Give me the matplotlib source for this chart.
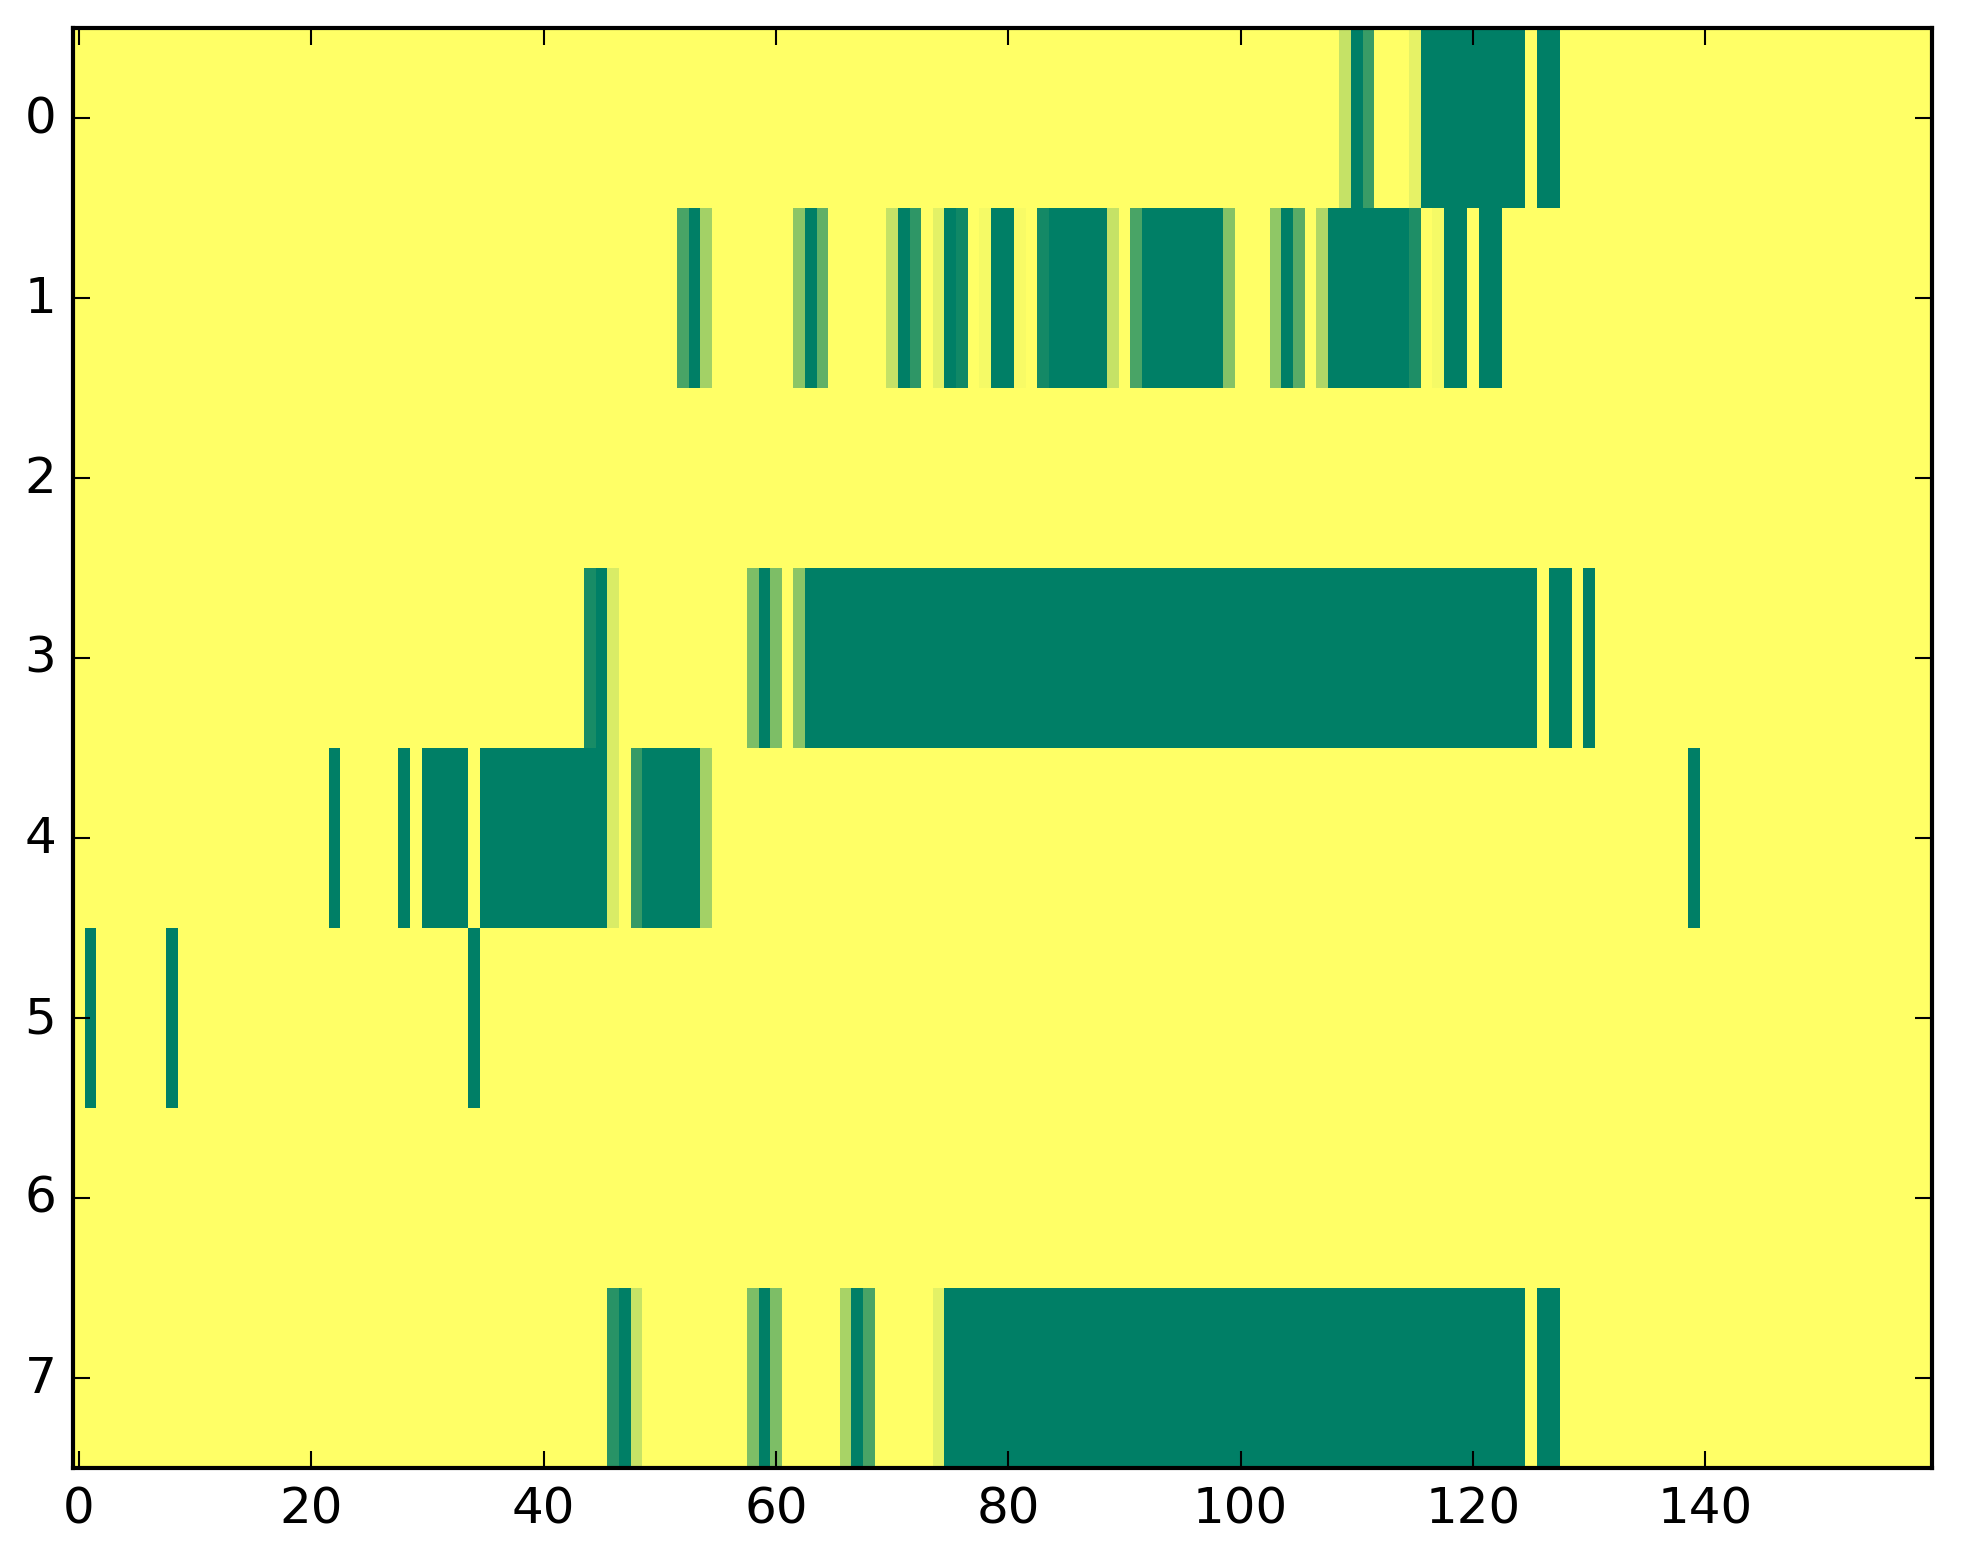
"""
8 x 160 heatmap (summer_r), values read from the reference picture
"""

import numpy as np
import matplotlib.pyplot as plt

n_rows = 8
n_cols = 160

# runs per row: (first column, last column, value)
row0 = [(109, 109, 0.23), (110, 110, 1.0), (111, 111, 0.77), (115, 115, 0.10),
        (116, 124, 1.0), (126, 127, 1.0)]
row1 = [(52, 52, 0.71), (53, 53, 1.0), (54, 54, 0.36),
        (62, 62, 0.45), (63, 63, 1.0), (64, 64, 0.62),
        (70, 70, 0.23), (71, 71, 1.0), (72, 72, 0.82),
        (74, 74, 0.11), (75, 75, 1.0), (76, 76, 0.93),
        (78, 78, 0.04), (79, 80, 1.0), (81, 81, 0.03),
        (83, 83, 0.92), (84, 88, 1.0), (89, 89, 0.23),
        (91, 91, 0.71), (92, 98, 1.0), (99, 99, 0.48),
        (103, 103, 0.44), (104, 104, 1.0), (105, 105, 0.65),
        (107, 107, 0.31), (108, 114, 1.0), (115, 115, 0.88),
        (117, 117, 0.04), (118, 119, 1.0), (121, 122, 1.0)]
row2 = []
row3 = [(44, 44, 0.90), (45, 45, 1.0), (46, 46, 0.15),
        (58, 58, 0.51), (59, 59, 1.0), (60, 60, 0.51),
        (62, 62, 0.45), (63, 125, 1.0), (127, 128, 1.0), (130, 130, 1.0)]
row4 = [(22, 22, 1.0), (28, 28, 1.0), (30, 33, 1.0), (35, 45, 1.0),
        (46, 46, 0.15), (48, 48, 0.79), (49, 53, 1.0), (54, 54, 0.36),
        (139, 139, 1.0)]
row5 = [(1, 1, 1.0), (8, 8, 1.0), (34, 34, 1.0)]
row6 = []
row7 = [(46, 46, 0.84), (47, 47, 1.0), (48, 48, 0.22),
        (58, 58, 0.51), (59, 59, 1.0), (60, 60, 0.51),
        (66, 66, 0.34), (67, 67, 1.0), (68, 68, 0.71),
        (74, 74, 0.11), (75, 124, 1.0), (126, 127, 1.0)]

rows = [row0, row1, row2, row3, row4, row5, row6, row7]

data = np.zeros((n_rows, n_cols))
for i, runs in enumerate(rows):
    for first, last, value in runs:
        data[i, first:last + 1] = value

plt.style.use('classic')

W, H, dpi = 1963, 1564, 300
fig = plt.figure(figsize=(W / dpi, H / dpi), dpi=dpi)
fig.patch.set_facecolor('white')
ax = fig.add_axes([73 / W, 95 / H, 1859 / W, 1440 / H])

ax.imshow(data, cmap='summer_r', vmin=0, vmax=1,
          interpolation='nearest', aspect='auto')

ax.set_xticks(np.arange(0, 141, 20))
ax.set_yticks(np.arange(0, 8))
ax.set_xlim(-0.5, n_cols - 0.5)
ax.set_ylim(n_rows - 0.5, -0.5)

fig.savefig('out.png', dpi=dpi)
plt.close(fig)
